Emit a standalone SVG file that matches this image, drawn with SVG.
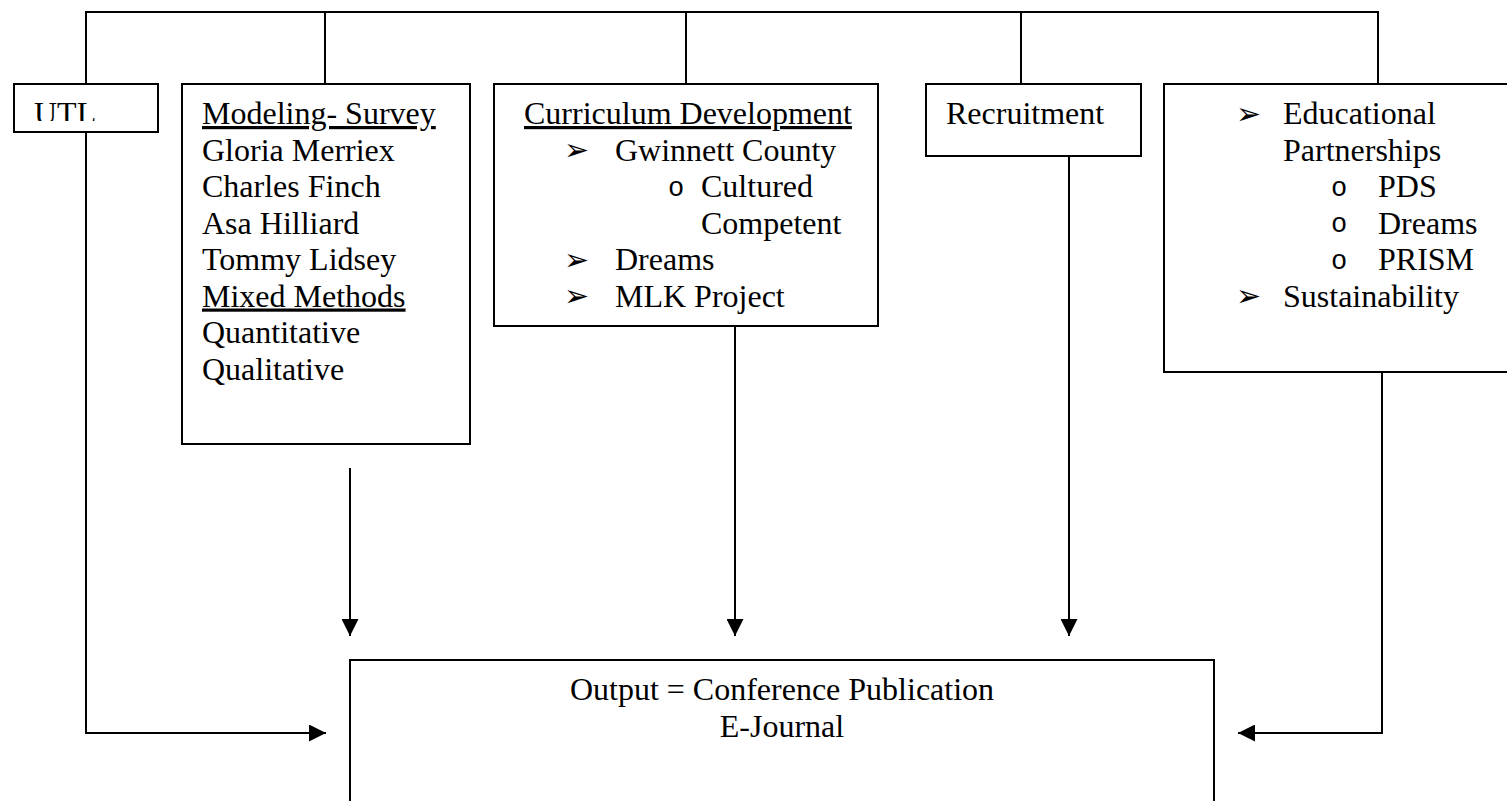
<svg xmlns="http://www.w3.org/2000/svg" width="1507" height="801" viewBox="0 0 1507 801">
<style>
.box{fill:#fff;stroke:#000;stroke-width:2}
.t{font-family:"Liberation Serif","Times New Roman",serif;font-size:32px;fill:#000}
.b{font-family:"DejaVu Sans",sans-serif;font-size:30px;fill:#000}
.o{font-family:"Liberation Mono","Courier New",monospace;font-size:27px;fill:#000}
.u{text-decoration:underline}
.ln{fill:none;stroke:#000;stroke-width:2}
</style>
<defs>
<marker id="ah" viewBox="0 0 16 16" refX="16" refY="8" markerWidth="17" markerHeight="17" markerUnits="userSpaceOnUse" orient="auto">
<path d="M0,0 L16,8 L0,16 Z" fill="#000"/>
</marker>
<clipPath id="utlclip"><rect x="14" y="84" width="144" height="37"/></clipPath>
</defs>
<rect width="1507" height="801" fill="#fff"/>
<g id="connectors">
<path class="ln" d="M86,84 V12 H1378 V84"/>
<path class="ln" d="M325,12 V84"/>
<path class="ln" d="M686,12 V84"/>
<path class="ln" d="M1021,12 V84"/>
<path class="ln" d="M86,132 V733 H326" marker-end="url(#ah)"/>
<path class="ln" d="M350,468 V636" marker-end="url(#ah)"/>
<path class="ln" d="M735,326 V636" marker-end="url(#ah)"/>
<path class="ln" d="M1069,156 V636" marker-end="url(#ah)"/>
<path class="ln" d="M1382,372 V733 H1238" marker-end="url(#ah)"/>
</g>
<g id="utl">
<rect class="box" x="14" y="84" width="144" height="48"/>
<text class="t" x="34" y="124" clip-path="url(#utlclip)">UTL</text>
</g>
<g id="modeling">
<rect class="box" x="182" y="84" width="288" height="360"/>
<text class="t u" x="202" y="124">Modeling- Survey</text>
<text class="t" x="202" y="160.5">Gloria Merriex</text>
<text class="t" x="202" y="197">Charles Finch</text>
<text class="t" x="202" y="233.5">Asa Hilliard</text>
<text class="t" x="202" y="270">Tommy Lidsey</text>
<text class="t u" x="202" y="306.5">Mixed Methods</text>
<text class="t" x="202" y="343">Quantitative</text>
<text class="t" x="202" y="379.5">Qualitative</text>
</g>
<g id="curriculum">
<rect class="box" x="494" y="84" width="384" height="242"/>
<text class="t u" x="524" y="124">Curriculum Development</text>
<text class="b" x="564" y="160">➢</text>
<text class="t" x="615" y="160.5">Gwinnett County</text>
<text class="o" x="668" y="196">o</text>
<text class="t" x="701" y="197">Cultured</text>
<text class="t" x="701" y="233.5">Competent</text>
<text class="b" x="564" y="270">➢</text>
<text class="t" x="615" y="270">Dreams</text>
<text class="b" x="564" y="306">➢</text>
<text class="t" x="615" y="306.5">MLK Project</text>
</g>
<g id="recruitment">
<rect class="box" x="926" y="84" width="215" height="72"/>
<text class="t" x="946" y="124">Recruitment</text>
</g>
<g id="partnerships">
<rect class="box" x="1164" y="84" width="350" height="288"/>
<text class="b" x="1236" y="124">➢</text>
<text class="t" x="1283" y="124">Educational</text>
<text class="t" x="1283" y="160.5">Partnerships</text>
<text class="o" x="1331" y="196">o</text>
<text class="t" x="1378" y="197">PDS</text>
<text class="o" x="1331" y="232">o</text>
<text class="t" x="1378" y="233.5">Dreams</text>
<text class="o" x="1331" y="269">o</text>
<text class="t" x="1378" y="270">PRISM</text>
<text class="b" x="1236" y="306">➢</text>
<text class="t" x="1283" y="306.5">Sustainability</text>
</g>
<g id="output">
<rect class="box" x="350" y="660" width="864" height="160"/>
<text class="t" x="782" y="700" text-anchor="middle">Output = Conference Publication</text>
<text class="t" x="782" y="737" text-anchor="middle">E-Journal</text>
</g>
</svg>
